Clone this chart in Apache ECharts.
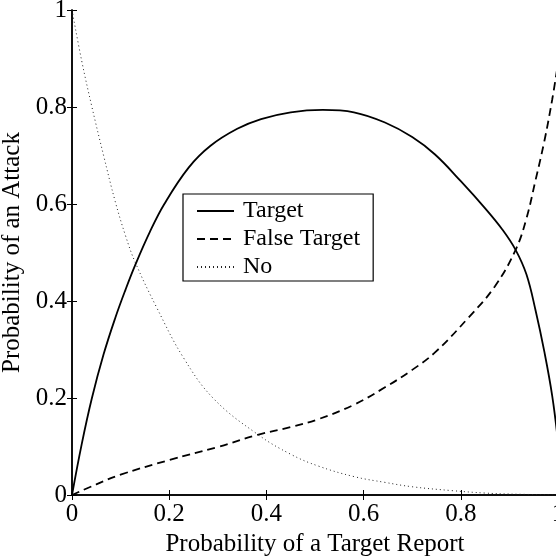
<!DOCTYPE html>
<html>
<head>
<meta charset="utf-8">
<script src="https://cdn.jsdelivr.net/npm/echarts@6/dist/echarts.min.js"></script>
<style>html,body{margin:0;padding:0;background:#fff}#c{width:556px;height:557px}</style>
</head>
<body>
<div id="c"></div>
<script>
const seriesNames = ['Target', 'False Target', 'No'];
const xTitle = 'Probability of a Target Report';
const yTitle = 'Probability of an Attack';

const targetX = [0, 0.02, 0.041, 0.065, 0.089, 0.11, 0.13, 0.16, 0.19, 0.24, 0.285, 0.34, 0.389, 0.45, 0.516, 0.58, 0.644, 0.70, 0.747, 0.80, 0.851, 0.885, 0.913, 0.935, 0.954, 0.972, 0.988, 1.0];
const targetY = [0, 0.105, 0.20, 0.29, 0.365, 0.423, 0.474, 0.542, 0.60, 0.675, 0.72, 0.755, 0.775, 0.789, 0.794, 0.789, 0.768, 0.738, 0.702, 0.647, 0.59, 0.548, 0.505, 0.455, 0.38, 0.295, 0.205, 0.11];

const falseX = [0, 0.05, 0.1, 0.2, 0.3, 0.382, 0.45, 0.506, 0.58, 0.644, 0.70, 0.747, 0.816, 0.87, 0.913, 0.935, 0.954, 0.972, 0.988, 1.0];
const falseY = [0, 0.022, 0.042, 0.072, 0.099, 0.124, 0.14, 0.156, 0.186, 0.222, 0.258, 0.294, 0.366, 0.43, 0.506, 0.57, 0.65, 0.73, 0.815, 0.89];

const noX = [0, 0.02, 0.041, 0.065, 0.089, 0.11, 0.13, 0.175, 0.23, 0.292, 0.382, 0.45, 0.506, 0.58, 0.644, 0.70, 0.782, 0.85, 0.9, 1.0];
const noY = [1.0, 0.895, 0.80, 0.70, 0.605, 0.535, 0.48, 0.385, 0.282, 0.198, 0.125, 0.084, 0.06, 0.038, 0.026, 0.017, 0.009, 0.004, 0.002, 0];

const xTicks = [0, 0.2, 0.4, 0.6, 0.8, 1];
const yTicks = [0, 0.2, 0.4, 0.6, 0.8, 1];

const pairs = (xs, ys) => xs.map((x, i) => [x, ys[i]]);
const FONT = 'Liberation Serif';

const chart = echarts.init(document.getElementById('c'), null, {renderer: 'canvas'});

const baseAxis = {
  type: 'value', min: xTicks[0], max: xTicks[xTicks.length - 1], interval: 0.2,
  splitLine: {show: false},
  axisLine: {show: true, lineStyle: {color: '#000', width: 1.5}},
  axisTick: {show: true, inside: true, length: 5, lineStyle: {color: '#000', width: 1}},
};

chart.setOption({
  animation: false,
  backgroundColor: '#fff',
  grid: {left: 72, right: -2, top: 10, bottom: 62, containLabel: false, outerBoundsMode: 'none'},
  legend: {
    orient: 'vertical', left: 183, top: 194,
    data: seriesNames,
    backgroundColor: '#fff',
    borderColor: '#000', borderWidth: 1.2,
    padding: [5, 13, 2, 13],
    itemWidth: 37, itemHeight: 14, itemGap: 4,
    textStyle: {fontFamily: FONT, fontSize: 24, color: '#000', padding: [0, 0, 0, 4]},
    itemStyle: {opacity: 0}
  },
  xAxis: [
    Object.assign({}, baseAxis, {
      position: 'bottom',
      name: xTitle, nameLocation: 'middle', nameGap: 31,
      nameTextStyle: {fontFamily: FONT, fontSize: 25, color: '#000'},
      axisLabel: {show: true, margin: 7, fontFamily: FONT, fontSize: 25, color: '#000'}
    }),
    Object.assign({}, baseAxis, {position: 'top', axisLabel: {show: false}})
  ],
  yAxis: [
    Object.assign({}, baseAxis, {
      min: yTicks[0], max: yTicks[yTicks.length - 1],
      position: 'left',
      name: yTitle, nameLocation: 'middle', nameGap: 36,
      nameTextStyle: {fontFamily: FONT, fontSize: 25, color: '#000'},
      axisLabel: {show: true, margin: 5, fontFamily: FONT, fontSize: 25, color: '#000'}
    }),
    Object.assign({}, baseAxis, {min: yTicks[0], max: yTicks[yTicks.length - 1], position: 'right', axisLabel: {show: false}})
  ],
  series: [
    {
      name: seriesNames[0], type: 'line', data: pairs(targetX, targetY),
      symbol: 'none', smooth: 0.4, clip: true,
      lineStyle: {color: '#000', width: 1.8, type: 'solid'}, itemStyle: {color: '#000'}
    },
    {
      name: seriesNames[1], type: 'line', data: pairs(falseX, falseY),
      symbol: 'none', smooth: 0.4, clip: true,
      lineStyle: {color: '#000', width: 1.8, type: [8, 5]}, itemStyle: {color: '#000'}
    },
    {
      name: seriesNames[2], type: 'line', data: pairs(noX, noY),
      symbol: 'none', smooth: 0.4, clip: true,
      lineStyle: {color: '#222', width: 1, type: [1, 3]}, itemStyle: {color: '#222'}
    }
  ]
});
</script>
</body>
</html>
